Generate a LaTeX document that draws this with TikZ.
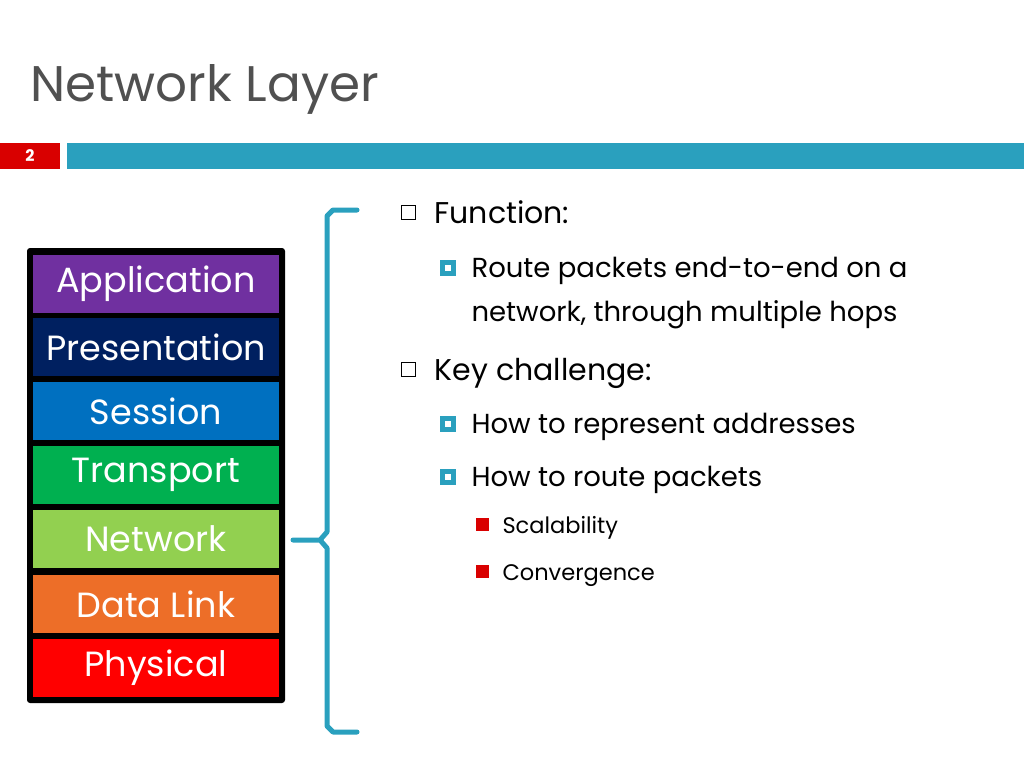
\documentclass[tikz,border=0pt]{standalone}
\usepackage{fontspec}
\setmainfont{Poppins}
\definecolor{teal1}{RGB}{42,160,190}
\definecolor{tgray}{RGB}{80,80,80}
\tikzset{
 layer/.style={minimum width=246pt,minimum height=58pt,inner sep=0pt,text=white,font=\fontsize{35}{35}\selectfont},
 lone/.style={anchor=base west,font=\fontsize{30}{32}\selectfont,text=black},
 ltwo/.style={anchor=base west,font=\fontsize{27.5}{28}\selectfont,text=black},
 lthree/.style={anchor=base west,font=\fontsize{22.5}{24}\selectfont,text=black},
}
\begin{document}
\begin{tikzpicture}[x=1pt,y=-1pt]
\useasboundingbox (0,0) rectangle (1024,768);
\node[anchor=base west,text=tgray,font=\fontsize{50}{50}\selectfont] (title) at (27,101) {Network Layer};
\fill[red!85!black] (0,143) rectangle (60,169);
\node[text=white,font=\bfseries\fontsize{16}{16}\selectfont] (num) at (30,156) {2};
\fill[teal1] (67,143) rectangle (1024,169);
\fill[black,rounded corners=3pt] (27,248) rectangle (285,703);
\node[layer,fill={rgb,255:red,112;green,48;blue,160}] (app) at (156,284) {Application};
\node[layer,fill={rgb,255:red,0;green,32;blue,96}] (pres) at (156,347) {Presentation};
\node[layer,fill={rgb,255:red,0;green,112;blue,192}] (sess) at (156,411) {Session};
\node[layer,fill={rgb,255:red,0;green,176;blue,80}] (trans) at (156,475) {Transport};
\node[layer,fill={rgb,255:red,146;green,208;blue,80}] (net) at (156,539) {Network};
\node[layer,fill={rgb,255:red,237;green,110;blue,40}] (dl) at (156,604) {Data Link};
\node[layer,fill={rgb,255:red,255;green,0;blue,0}] (phy) at (156,668) {Physical};
\draw[teal1,line width=5pt,line cap=round,line join=round] (357,210) -- (333,210) -- (327,216) -- (327,532) -- (320,540) -- (293,540) (320,540) -- (327,548) -- (327,726) -- (333,732) -- (357,732);
\draw[black,line width=1pt] (401,205) rectangle (415,219);
\node[lone] (f) at (431,223) {Function:};
\fill[teal1] (440,260) rectangle (456,276);
\fill[white] (445,265) rectangle (451,271);
\node[ltwo] (r1) at (468,277) {Route packets end-to-end on a};
\node[ltwo] (r2) at (468,321) {network, through multiple hops};
\draw[black,line width=1pt] (401,362) rectangle (415,376);
\node[lone] (k) at (431,380) {Key challenge:};
\fill[teal1] (440,416) rectangle (456,432);
\fill[white] (445,421) rectangle (451,427);
\node[ltwo] (h1) at (468,433) {How to represent addresses};
\fill[teal1] (440,469) rectangle (456,485);
\fill[white] (445,474) rectangle (451,480);
\node[ltwo] (h2) at (468,486) {How to route packets};
\fill[red!85!black] (476,518) rectangle (489,531);
\node[lthree] (s) at (499,533) {Scalability};
\fill[red!85!black] (476,565) rectangle (489,578);
\node[lthree] (c) at (499,580) {Convergence};
\end{tikzpicture}
\end{document}
